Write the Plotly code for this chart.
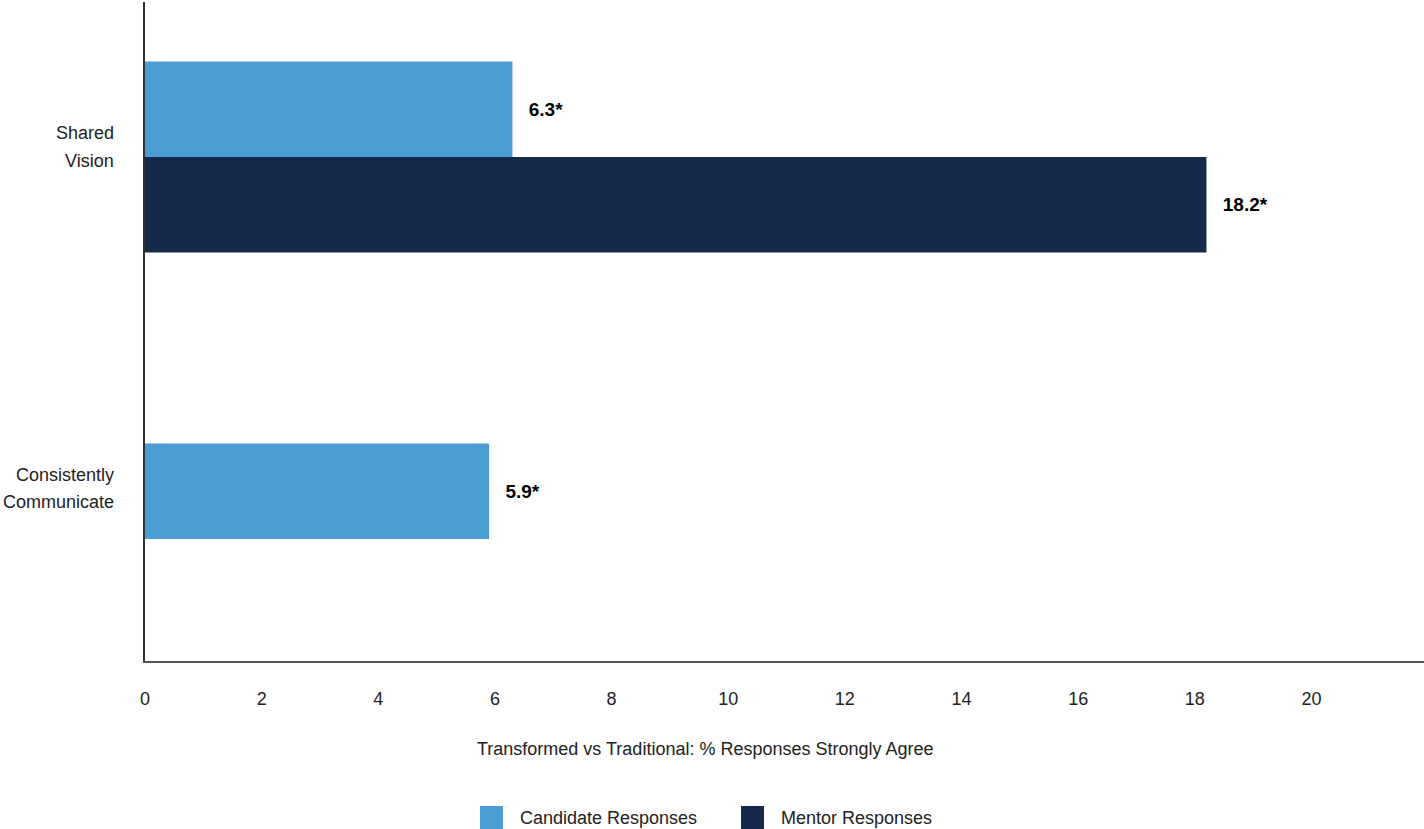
import plotly.graph_objects as go

categories = ["Shared Vision", "Consistently Communicate"]
category_lines = [["Shared", "Vision"], ["Consistently", "Communicate"]]
series_names = ["Candidate Responses", "Mentor Responses"]
candidate_values = [6.3, 5.9]
mentor_values = [18.2, None]
x_ticks = [0, 2, 4, 6, 8, 10, 12, 14, 16, 18, 20]
x_title = "Transformed vs Traditional: % Responses Strongly Agree"
colors = ["#4A9CD3", "#15294B"]

W, H = 1424, 829
ML, MR, MT, MB = 145, 0, 2, 168
PW, PH = W - ML - MR, H - MT - MB

FONT = "Liberation Sans, Arial, sans-serif"
TXT = "#222222"


def labels(vals):
    return ["" if v is None else "\u2002\u2009<b>%s*</b>" % v for v in vals]


fig = go.Figure()
for name, vals, col in zip(series_names, [candidate_values, mentor_values], colors):
    fig.add_trace(go.Bar(
        name=name, orientation="h", y=categories, x=vals,
        marker=dict(color=col, line=dict(width=0)),
        text=labels(vals), textposition="outside", cliponaxis=False,
        textfont=dict(family=FONT, size=19, color="#000000"),
        hoverinfo="x+name", showlegend=False,
    ))

fig.update_layout(
    width=W, height=H,
    margin=dict(l=ML, r=MR, t=MT, b=MB, pad=0),
    paper_bgcolor="white", plot_bgcolor="white",
    barmode="group", bargap=0.5, bargroupgap=0,
    font=dict(family=FONT, size=18, color=TXT),
    showlegend=False,
)
fig.update_xaxes(
    range=[0, 21.93], tickvals=x_ticks, ticktext=[str(t) for t in x_ticks],
    showgrid=False, zeroline=False, showline=True, linecolor="#555555", linewidth=2,
    ticks="", ticklabelstandoff=20, tickfont=dict(size=18, color=TXT),
)
fig.update_yaxes(
    type="category", categoryorder="array", categoryarray=categories,
    range=[1.3194, -0.4058],
    showticklabels=False,
    showgrid=False, zeroline=False, showline=True, linecolor="#333333", linewidth=1.5,
    ticks="",
)

# category labels (two lines each), right-aligned left of the axis
line_shifts = [[24, -4], [64, 37]]
for cat, lines, shifts in zip(categories, category_lines, line_shifts):
    for txt, ys in zip(lines, shifts):
        fig.add_annotation(
            text=txt, xref="paper", yref="y", x=0, y=cat,
            xanchor="right", yanchor="middle", xshift=-29, yshift=ys,
            showarrow=False, font=dict(family=FONT, size=18, color=TXT),
        )


def py(pixel_y):
    return (MT + PH - pixel_y) / PH


def px(pixel_x):
    return (pixel_x - ML) / PW


fig.add_annotation(
    text=x_title, xref="paper", yref="paper", x=px(705), y=py(749),
    showarrow=False, xanchor="center", yanchor="middle",
    font=dict(family=FONT, size=18, color=TXT),
)

# custom legend with large square swatches
legend_x = [480, 741]
for name, col, lx in zip(series_names, colors, legend_x):
    fig.add_shape(type="rect", xref="paper", yref="paper",
                  x0=px(lx), x1=px(lx + 23), y0=py(806), y1=py(830),
                  fillcolor=col, line=dict(width=0))
    fig.add_annotation(
        text=name, xref="paper", yref="paper", x=px(lx + 38), y=py(818),
        showarrow=False, xanchor="left", yanchor="middle",
        font=dict(family=FONT, size=18, color=TXT),
    )

fig.write_html(
    "out.html",
    config={"displayModeBar": False},
    post_script="document.body.style.margin='0';document.body.style.overflow='hidden';",
)
